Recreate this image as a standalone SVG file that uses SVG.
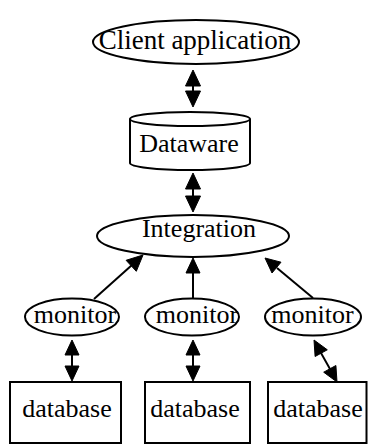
<svg xmlns="http://www.w3.org/2000/svg" width="368" height="445" viewBox="0 0 368 445">
<style>
.s{fill:none;stroke:#000;stroke-width:2}
.n{fill:#fff;stroke:#000;stroke-width:2}
.t{font-family:'Liberation Serif','Times New Roman',Times,serif;font-size:26px;fill:#000;text-anchor:middle}
.h{fill:#000;stroke:#000;stroke-width:1}
</style>
<rect width="368" height="445" fill="#fff"/>
<g id="connectors">
<line class="s" x1="193" y1="85" x2="193" y2="92"/>
<polygon class="h" points="193,70 200.5,86 185.5,86"/>
<polygon class="h" points="193,107 200.5,91 185.5,91"/>
<line class="s" x1="193" y1="188" x2="193" y2="196"/>
<polygon class="h" points="193,173 200.5,189 185.5,189"/>
<polygon class="h" points="193,212 200.5,196 185.5,196"/>
<line class="s" x1="94" y1="299" x2="132" y2="265"/>
<polygon class="h" points="143,255 136.3,271.3 126.1,260.3"/>
<line class="s" x1="193" y1="299" x2="193" y2="272"/>
<polygon class="h" points="193,258 200,273 186,273"/>
<line class="s" x1="313" y1="298" x2="277" y2="268"/>
<polygon class="h" points="265,258 281,262.2 272,273"/>
<line class="s" x1="72" y1="354" x2="72" y2="366"/>
<polygon class="h" points="72,340 79,355 65,355"/>
<polygon class="h" points="72,381 79,366 65,366"/>
<line class="s" x1="193" y1="354" x2="193" y2="366"/>
<polygon class="h" points="193,340 200,355 186,355"/>
<polygon class="h" points="193,381 200,366 186,366"/>
<line class="s" x1="321" y1="353" x2="330" y2="369"/>
<polygon class="h" points="314,340 327.3,349.8 315.1,356.5"/>
<polygon class="h" points="337,382 335.9,365.5 323.7,372.2"/>
</g>
<g id="client">
<ellipse class="n" cx="196" cy="42" rx="103" ry="22"/>
<text class="t" x="195" y="49" style="font-size:27px">Client application</text>
</g>
<g id="dataware">
<path class="n" d="M130,119 L130,163 A60,7 0 0 0 250,163 L250,119 A60,7 0 0 0 130,119 Z"/>
<path class="s" d="M130,119 A60,7 0 0 0 250,119"/>
<text class="t" x="189" y="152">Dataware</text>
</g>
<g id="integration">
<ellipse class="n" cx="193" cy="236" rx="96" ry="21"/>
<text class="t" x="199" y="237">Integration</text>
</g>
<g id="monitor1">
<ellipse class="n" cx="72" cy="317" rx="47" ry="18.5"/>
<text class="t" x="75" y="323">monitor</text>
</g>
<g id="monitor2">
<ellipse class="n" cx="192" cy="317" rx="47" ry="18.5"/>
<text class="t" x="197" y="323">monitor</text>
</g>
<g id="monitor3">
<ellipse class="n" cx="313" cy="317" rx="48" ry="18.5"/>
<text class="t" x="312.5" y="323">monitor</text>
</g>
<g id="db1">
<rect class="n" x="10" y="382" width="111" height="61"/>
<text class="t" x="67" y="417">database</text>
</g>
<g id="db2">
<rect class="n" x="145" y="382" width="105" height="61"/>
<text class="t" x="195" y="417">database</text>
</g>
<g id="db3">
<rect class="n" x="268" y="382" width="98.5" height="61"/>
<text class="t" x="318" y="417">database</text>
</g>
</svg>
